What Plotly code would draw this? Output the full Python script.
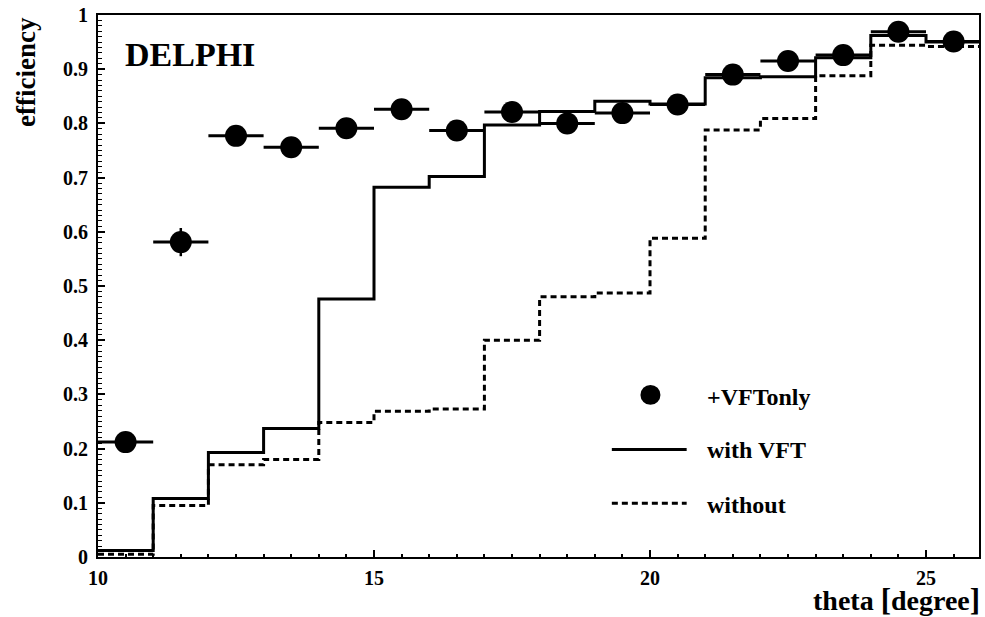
import plotly.graph_objects as go

# ---- data ----
bin_edges = [10, 11, 12, 13, 14, 15, 16, 17, 18, 19, 20, 21, 22, 23, 24, 25, 26]
bin_centers = [10.5, 11.5, 12.5, 13.5, 14.5, 15.5, 16.5, 17.5, 18.5, 19.5,
               20.5, 21.5, 22.5, 23.5, 24.5, 25.5]
vft_only = [0.212, 0.581, 0.777, 0.756, 0.791, 0.826, 0.787, 0.821, 0.800, 0.819,
            0.835, 0.890, 0.915, 0.926, 0.969, 0.951]
vft_only_err = [0.010, 0.026, 0.012, 0.012, 0.010, 0.010, 0.010, 0.010, 0.010, 0.010,
                0.010, 0.010, 0.010, 0.010, 0.010, 0.010]
with_vft = [0.012, 0.108, 0.193, 0.237, 0.476, 0.682, 0.702, 0.797, 0.822, 0.841,
            0.836, 0.884, 0.886, 0.921, 0.962, 0.950]
without = [0.005, 0.095, 0.170, 0.180, 0.248, 0.269, 0.273, 0.400, 0.480, 0.487,
           0.588, 0.788, 0.809, 0.888, 0.944, 0.942]
x_ticks = [10, 15, 20, 25]
legend_labels = ["+VFTonly", "with VFT", "without"]

FONT = "Liberation Serif"
W, H = 985, 617
ML, MR, MT, MB = 98, 4, 13, 60
PW, PH = W - ML - MR, H - MT - MB


def px(x):
    return (x - ML) / PW


def py(y):
    return (H - MB - y) / PH


fig = go.Figure()

# histograms (step lines through bin edges)
fig.add_trace(go.Scatter(
    x=bin_edges, y=with_vft + [with_vft[-1]], mode="lines", line_shape="hv",
    line=dict(color="black", width=3), showlegend=False, hoverinfo="skip"))
fig.add_trace(go.Scatter(
    x=bin_edges, y=without + [without[-1]], mode="lines", line_shape="hv",
    line=dict(color="black", width=3, dash="6px,4px"), showlegend=False,
    hoverinfo="skip"))

# data points with horizontal bin-width bars
fig.add_trace(go.Scatter(
    x=bin_centers, y=vft_only, mode="markers",
    marker=dict(symbol="circle", size=22, color="black"),
    error_x=dict(type="constant", value=0.5, width=0, thickness=3, color="black"),
    error_y=dict(type="data", array=vft_only_err, width=0, thickness=2.5, color="black"),
    showlegend=False))

shapes = []
annotations = []

# legend drawn by hand
lx0, lx1 = 613, 688
cx, cy, r = 651.7, 394.3, 10
shapes.append(dict(type="circle", xref="paper", yref="paper",
                   x0=px(cx - r), x1=px(cx + r), y0=py(cy + r), y1=py(cy - r),
                   fillcolor="black", line=dict(color="black", width=0)))
shapes.append(dict(type="line", xref="paper", yref="paper",
                   x0=px(lx0), x1=px(lx1), y0=py(449), y1=py(449),
                   line=dict(color="black", width=3)))
shapes.append(dict(type="line", xref="paper", yref="paper",
                   x0=px(lx0), x1=px(lx1), y0=py(503), y1=py(503),
                   line=dict(color="black", width=3, dash="6px,4px")))
for lbl, yy in zip(legend_labels, [396, 450, 505]):
    annotations.append(dict(text=lbl, xref="paper", yref="paper", x=px(706), y=py(yy),
                            xanchor="left", yanchor="middle", showarrow=False,
                            font=dict(family=FONT, size=24, color="black", weight="bold")))

annotations.append(dict(text="DELPHI", xref="paper", yref="paper", x=px(123), y=py(53),
                        xanchor="left", yanchor="middle", showarrow=False,
                        font=dict(family=FONT, size=34, color="black", weight="bold")))
annotations.append(dict(text="efficiency", xref="paper", yref="paper", x=px(26), y=py(70),
                        xanchor="center", yanchor="middle", textangle=-90, showarrow=False,
                        font=dict(family=FONT, size=27, color="black", weight="bold")))
annotations.append(dict(text="theta <span style='font-size:31px'>[</span>degree<span style='font-size:31px'>]</span>",
                        xref="paper", yref="paper", x=px(983), y=py(600), borderpad=0,
                        xanchor="right", yanchor="middle", showarrow=False,
                        font=dict(family=FONT, size=28, color="black", weight="bold")))

fig.update_layout(
    width=W, height=H, autosize=False,
    margin=dict(l=ML, r=MR, t=MT, b=MB, pad=0),
    plot_bgcolor="white", paper_bgcolor="white",
    shapes=shapes, annotations=annotations,
    font=dict(family=FONT, color="black"),
)
fig.update_xaxes(
    range=[10, 25.96], tickvals=x_ticks, ticktext=[str(v) for v in x_ticks],
    ticks="inside", ticklen=7, tickwidth=1.5, tickcolor="black",
    minor=dict(ticks="inside", dtick=0.5, tick0=10, ticklen=3.5, tickwidth=1.5, tickcolor="black"),
    showline=True, linewidth=2, linecolor="black", mirror=True,
    showgrid=False, zeroline=False, ticklabelstandoff=2,
    tickfont=dict(family=FONT, size=20, color="black", weight="bold"),
)
fig.update_yaxes(
    range=[0, 1], dtick=0.1, tick0=0,
    ticks="inside", ticklen=7, tickwidth=1.5, tickcolor="black",
    minor=dict(ticks="inside", dtick=0.01, tick0=0, ticklen=3.5, tickwidth=1.2, tickcolor="black"),
    showline=True, linewidth=2, linecolor="black", mirror=True,
    showgrid=False, zeroline=False, ticklabelstandoff=4,
    tickfont=dict(family=FONT, size=20, color="black", weight="bold"),
)

fig.write_html("out.html", config={"displayModeBar": False},
               post_script="document.body.style.margin='0';document.body.style.overflow='hidden';")
